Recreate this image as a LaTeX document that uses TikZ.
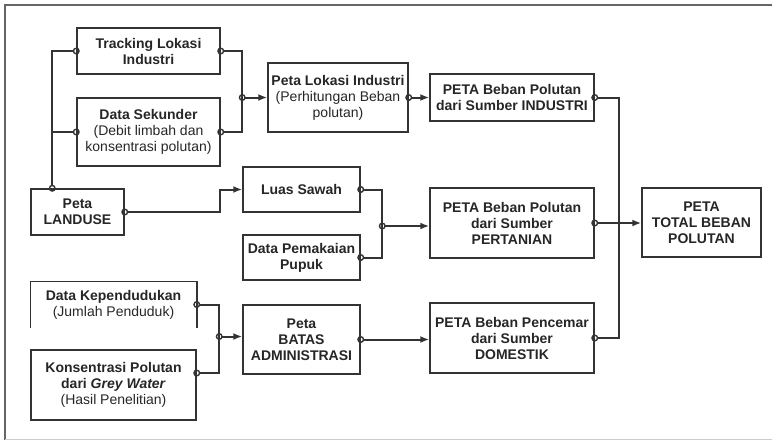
\documentclass[tikz,border=0pt]{standalone}
\usepackage{fontspec}
\setmainfont{Liberation Sans}
\usetikzlibrary{arrows.meta,calc}

\tikzset{
  kotak/.style={draw=black!80, line width=1.5pt, align=center, inner sep=1pt,
    text=black!85, font=\fontsize{14}{16}\selectfont\bfseries},
  bingkai/.style={draw=black!60, line width=1.6pt},
  garis/.style={draw=black!80, line width=2pt},
  alir/.style={garis, shorten <=-3.5pt,
    arrows={Circle[open,length=7pt,line width=1.4pt]-Latex[length=9pt,width=7pt]}},
  pangkal/.style={garis, shorten <=-3.5pt,
    arrows={Circle[open,length=7pt,line width=1.4pt]-}},
  dua/.style={garis, shorten <=-3.5pt, shorten >=-3.5pt,
    arrows={Circle[open,length=7pt,line width=1.4pt]-Circle[open,length=7pt,line width=1.4pt]}},
  ujung/.style={garis, shorten >=-3.5pt,
    arrows={-Circle[open,length=7pt,line width=1.4pt]}},
}

\begin{document}
\begin{tikzpicture}[x=1pt,y=-1pt]
%%%%% START %%%%%
\useasboundingbox (0,0) rectangle (772,440);
\draw[bingkai] (5,440) -- (5,5) -- (772,5);
\draw[bingkai, draw=black!20, line width=1pt] (5,439) -- (772,439);

% kolom kiri
\node[kotak, minimum width=143pt, minimum height=46pt] (track) at (148.5,51) {Tracking Lokasi\\Industri};
\node[kotak, minimum width=143pt, minimum height=68pt] (sekunder) at (148.5,132) {Data Sekunder\\\mdseries(Debit limbah dan\\\mdseries konsentrasi polutan)};
\node[kotak, minimum width=93pt, minimum height=46pt] (landuse) at (77.5,212) {Peta\\LANDUSE};
\node[kotak, draw=none, minimum width=165pt, minimum height=45pt] (penduduk) at (113.5,304.5) {Data Kependudukan\\\mdseries(Jumlah Penduduk)};
\draw[kotak] (penduduk.south west) -- (penduduk.north west) -- (penduduk.north east) -- (penduduk.south east);
\node[kotak, minimum width=165pt, minimum height=70pt] (greywater) at (113.5,385) {Konsentrasi Polutan\\dari \textit{Grey Water}\\\mdseries(Hasil Penelitian)};

% kolom tengah
\node[kotak, minimum width=140pt, minimum height=69pt] (lokasi) at (338,97.5) {Peta Lokasi Industri\\\mdseries(Perhitungan Beban\\\mdseries polutan)};
\node[kotak, minimum width=117pt, minimum height=45pt] (sawah) at (301.5,189.5) {Luas Sawah};
\node[kotak, minimum width=117pt, minimum height=45pt] (pupuk) at (301.5,257.5) {Data Pemakaian\\Pupuk};
\node[kotak, minimum width=117pt, minimum height=69pt] (batas) at (301.5,339.5) {Peta\\BATAS\\ADMINISTRASI};

% kolom kanan
\node[kotak, minimum width=164pt, minimum height=47pt] (industri) at (512,97.5) {PETA Beban Polutan\\dari Sumber INDUSTRI};
\node[kotak, minimum width=164pt, minimum height=70pt] (pertanian) at (512,223) {PETA Beban Polutan\\dari Sumber\\PERTANIAN};
\node[kotak, minimum width=164pt, minimum height=70pt] (domestik) at (512,338) {PETA Beban Pencemar\\dari Sumber\\DOMESTIK};
\node[kotak, minimum width=119pt, minimum height=69pt] (total) at (701.5,222.5) {PETA\\TOTAL BEBAN\\POLUTAN};

% titik cabang
\coordinate (lan) at ($(landuse.north west)+(22,0)$);
\coordinate (j1) at ($(lokasi.west)+(-25,0)$);
\coordinate (j2) at ($(pertanian.west)+(-47,3)$);
\coordinate (j3) at ($(batas.west)+(-23,-3)$);

% sambungan
\draw[dua] (lan) |- (track.west);
\draw[ujung] (sekunder.west -| lan) -- (sekunder.west);
\draw[pangkal] (track.east) -| (j1);
\draw[pangkal] (sekunder.east) -| (j1);
\draw[alir] (j1) -- (lokasi.west);
\draw[alir] (lokasi.east) -- (industri.west);

\draw[alir] (landuse.east) -- ++(95,0) |- (sawah.west);
\draw[pangkal] (sawah.east) -| (j2);
\draw[pangkal] (pupuk.east) -| (j2);
\draw[alir] (j2) -- (j2 -| pertanian.west);

\draw[pangkal] (penduduk.east) -| (j3);
\draw[pangkal] ($(greywater.east)+(0,-12)$) -| (j3);
\draw[alir] (j3) -- (j3 -| batas.west);
\draw[alir] (batas.east) -- (batas.east -| domestik.west);

\draw[dua] (industri.east) -- ++(24,0) |- (domestik.east);
\draw[alir] (pertanian.east) -- (pertanian.east -| total.west);
%%%%% END %%%%%
\end{tikzpicture}
\end{document}
